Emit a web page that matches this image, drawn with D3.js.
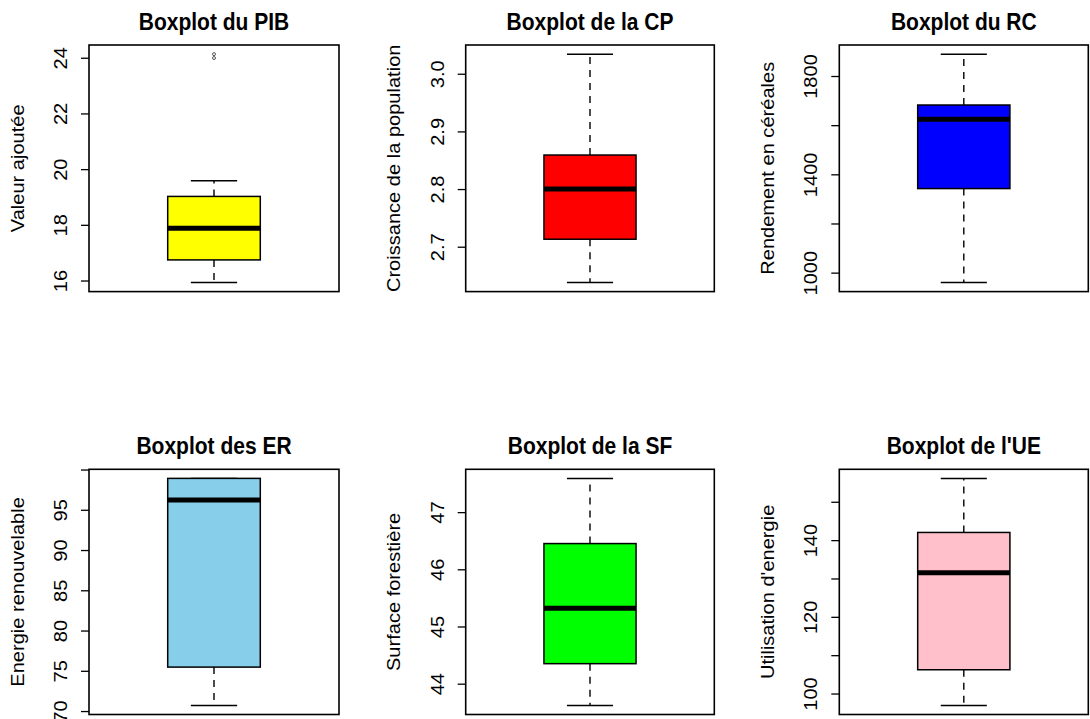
<!DOCTYPE html>
<html>
<head>
<meta charset="utf-8">
<script src="https://cdn.jsdelivr.net/npm/d3@7"></script>
<style>
  body { margin: 0; background: #fff; }
  svg { display: block; }
  text { font-family: "Liberation Sans", Arial, sans-serif; fill: #000; }
</style>
</head>
<body>
<svg id="chart" width="1090" height="719"></svg>
<script>
const titles = ['Boxplot du PIB', 'Boxplot de la CP', 'Boxplot du RC', 'Boxplot des ER', 'Boxplot de la SF', "Boxplot de l'UE"]
const yLabels = ['Valeur ajoutée', 'Croissance de la population', 'Rendement en céréales', 'Energie renouvelable', 'Surface forestière', "Utilisation d'energie"]
const fills = ['#ffff00', '#ff0000', '#0000ff', '#87ceeb', '#00ff00', '#ffc0cb']

const lowWhisker  = [15.93, 2.638, 960, 70.7, 43.62, 96.9]
const q1          = [16.74, 2.713, 1342, 75.46, 44.35, 106.2]
const median      = [17.88, 2.80, 1624, 96.2, 45.32, 131.5]
const q3          = [19.02, 2.859, 1682, 98.9, 46.45, 142.0]
const highWhisker = [19.58, 3.034, 1889, 98.9, 47.59, 156.1]
const outliers    = [[24.13, 23.99], [], [], [], [], []]

const tickValues = [
  [16, 18, 20, 22, 24],
  [2.7, 2.8, 2.9, 3.0],
  [1000, 1200, 1400, 1600, 1800],
  [70, 75, 80, 85, 90, 95, 100],
  [44, 45, 46, 47],
  [100, 110, 120, 130, 140, 150]
]
const tickLabels = [
  ['16', '18', '20', '22', '24'],
  ['2.7', '2.8', '2.9', '3.0'],
  ['1000', '', '1400', '', '1800'],
  ['70', '75', '80', '85', '90', '95', ''],
  ['44', '45', '46', '47'],
  ['100', '', '120', '', '140', '']
]

// mise en page (en px)
const colLeft = [89, 465.7, 839.3]
const colRight = [339, 714.3, 1088.3]
const rowTop = [45, 469.3]
const rowBottom = [291.6, 714.5]
const stretch = 1.115 // l'image d'origine est étirée verticalement

const svg = d3.select('#chart')

titles.forEach((title, i) => {
  const col = i % 3, row = Math.floor(i / 3)
  const x0 = colLeft[col], x1 = colRight[col], y0 = rowTop[row], y1 = rowBottom[row]

  const vals = [lowWhisker[i], highWhisker[i]].concat(outliers[i])
  const [lo, hi] = d3.extent(vals)
  const pad = (hi - lo) * 0.04

  const y = d3.scaleLinear().domain([lo - pad, hi + pad]).range([y1, y0])
  const x = d3.scaleLinear().domain([0.46, 1.54]).range([x0, x1])

  const g = svg.append('g').attr('class', 'panel')

  // boite a moustaches
  const cx = x(1), half = x(1.2) - x(1), capHalf = half / 2

  g.append('line')
    .attr('x1', cx).attr('x2', cx)
    .attr('y1', y(q3[i])).attr('y2', y(highWhisker[i]))
    .attr('stroke', '#000').attr('stroke-width', 1.4).attr('stroke-dasharray', '7,6')
  g.append('line')
    .attr('x1', cx).attr('x2', cx)
    .attr('y1', y(q1[i])).attr('y2', y(lowWhisker[i]))
    .attr('stroke', '#000').attr('stroke-width', 1.4).attr('stroke-dasharray', '7,6')

  g.selectAll('line.cap')
    .data([lowWhisker[i], highWhisker[i]])
    .join('line')
    .attr('class', 'cap')
    .attr('x1', cx - capHalf).attr('x2', cx + capHalf)
    .attr('y1', d => y(d)).attr('y2', d => y(d))
    .attr('stroke', '#000').attr('stroke-width', 1.5)

  g.append('rect')
    .attr('x', cx - half).attr('width', half * 2)
    .attr('y', y(q3[i])).attr('height', y(q1[i]) - y(q3[i]))
    .attr('fill', fills[i]).attr('stroke', '#000').attr('stroke-width', 1.5)

  g.append('line')
    .attr('x1', cx - half).attr('x2', cx + half)
    .attr('y1', y(median[i])).attr('y2', y(median[i]))
    .attr('stroke', '#000').attr('stroke-width', 5)

  g.selectAll('circle.out')
    .data(outliers[i])
    .join('circle')
    .attr('class', 'out')
    .attr('cx', cx).attr('cy', d => y(d)).attr('r', 1.5)
    .attr('fill', 'none').attr('stroke', '#444').attr('stroke-width', 0.9)

  // cadre
  g.append('rect')
    .attr('x', x0).attr('y', y0).attr('width', x1 - x0).attr('height', y1 - y0)
    .attr('fill', 'none').attr('stroke', '#000').attr('stroke-width', 1.6)

  // axe
  const axis = g.append('g')
    .attr('transform', `translate(${x0},0)`)
    .call(d3.axisLeft(y).tickValues(tickValues[i]).tickSize(8)
      .tickFormat((d, k) => tickLabels[i][k]))
  axis.select('.domain').remove()
  axis.selectAll('.tick line').attr('stroke', '#000').attr('stroke-width', 1.3)
  axis.selectAll('.tick text')
    .attr('x', null).attr('dy', null)
    .attr('text-anchor', 'middle')
    .attr('font-size', 18)
    .attr('font-family', '"Liberation Sans", Arial, sans-serif')
    .attr('fill', '#000')
    .attr('transform', `translate(-22,0) scale(1,${stretch}) rotate(-90)`)

  // titres
  g.append('text')
    .attr('transform', `translate(${(x0 + x1) / 2},${y0 - 15}) scale(1,${stretch})`)
    .attr('text-anchor', 'middle')
    .attr('font-size', 21).attr('font-weight', 'bold')
    .text(title)

  g.append('text')
    .attr('transform', `translate(${x0 - 65.5},${(y0 + y1) / 2}) scale(1,${stretch}) rotate(-90)`)
    .attr('text-anchor', 'middle')
    .attr('font-size', 18)
    .text(yLabels[i])
})
</script>
</body>
</html>
